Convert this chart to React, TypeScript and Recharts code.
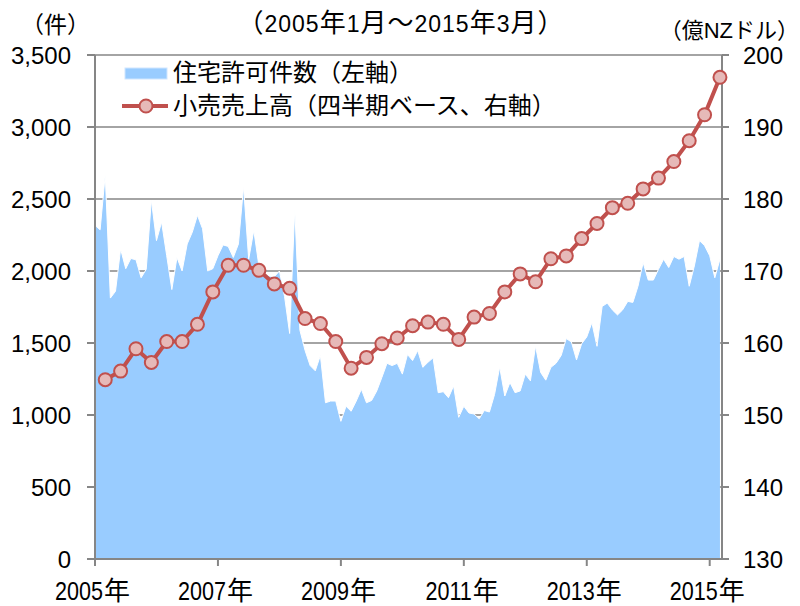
import React from 'react';
import { ComposedChart, Area, Line, XAxis, YAxis, CartesianGrid } from 'recharts';

// monthly building consents, Jan 2005 - Mar 2015 (left axis)
const permits = [
  2317, 2286, 2669, 1812, 1859, 2153, 2016, 2087, 2078, 1953,
  2012, 2493, 2211, 2340, 2106, 1871, 2094, 2000, 2188, 2270,
  2387, 2293, 2000, 2016, 2106, 2181, 2171, 2094, 2188, 2587,
  2082, 2282, 2035, 1988, 1965, 1960, 2000, 1824, 1566, 2434,
  1589, 1449, 1343, 1307, 1413, 1085, 1097, 1097, 956, 1061,
  1026, 1097, 1179, 1085, 1101, 1167, 1261, 1359, 1343, 1359,
  1284, 1420, 1378, 1448, 1331, 1366, 1397, 1155, 1162, 1120,
  1202, 984, 1061, 1014, 1007, 974, 1031, 1021, 1143, 1333,
  1132, 1226, 1155, 1167, 1284, 1237, 1479, 1296, 1242, 1331,
  1359, 1413, 1531, 1507, 1383, 1495, 1542, 1641, 1477, 1754,
  1777, 1730, 1695, 1730, 1789, 1782, 1894, 2059, 1937, 1937,
  2012, 2082, 2024, 2101, 2082, 2101, 1894, 2035, 2211, 2176,
  2106, 1953, 2082,
];

// quarterly retail sales, 2005Q1 - 2015Q1 (right axis, 億NZドル)
const retailSales = [
  154.9, 156.1, 159.2, 157.3, 160.2, 160.2, 162.6, 167.1, 170.8, 170.8,
  170.1, 168.2, 167.6, 163.4, 162.7, 160.2, 156.5, 158.0, 159.9, 160.7,
  162.4, 162.9, 162.6, 160.5, 163.6, 164.1, 167.1, 169.6, 168.5, 171.7,
  172.1, 174.5, 176.6, 178.8, 179.4, 181.4, 182.9, 185.2, 188.1, 191.7,
  196.9,
];

const startYear = 2005;
const yearTicks = [0, 24, 48, 72, 96, 120];
const leftTicks = [0, 500, 1000, 1500, 2000, 2500, 3000, 3500];
const rightTicks = [130, 140, 150, 160, 170, 180, 190, 200];

const chartData = permits.map((p, m) => ({
  m,
  permits: p,
  sales: m % 3 === 2 ? retailSales[(m - 2) / 3] : null,
}));

const FONT = "'Liberation Sans', Arial, 'Noto Sans CJK JP', sans-serif";
const CJK = "'Noto Sans CJK JP', sans-serif";
const AXIS = '#868686';
const RED = '#C0504D';
const PINK = '#E6B9B8';
const BLUE = '#99CCFF';

// x labels are drawn a bit condensed, like the original
const YearTick = ({ x, y, payload }: any) => {
  const year = startYear + payload.value / 12;
  return (
    <g>
      <text
        transform={`translate(${x + 8}, ${y + 34}) scale(0.83, 1)`}
        textAnchor="end"
        fontSize={26}
        fontFamily={FONT}
        fill="#000"
      >
        {year}
      </text>
      <text x={x + 9} y={y + 34} fontSize={26} fontFamily={CJK} fill="#000">
        年
      </text>
    </g>
  );
};

export default function App() {
  return (
    <div style={{ position: 'absolute', left: 0, top: 0, width: 800, height: 606, background: '#fff', overflow: 'hidden' }}>
      <ComposedChart width={800} height={606} data={chartData} margin={{ top: 55, right: 0, bottom: 0, left: 0 }}>
        <CartesianGrid yAxisId="left" vertical={false} stroke={AXIS} strokeWidth={1.5} />
        <XAxis
          dataKey="m"
          type="number"
          domain={[0, 122.4]}
          ticks={yearTicks}
          height={47}
          axisLine={{ stroke: AXIS, strokeWidth: 2 }}
          tickLine={{ stroke: AXIS, strokeWidth: 2 }}
          tickSize={7}
          tickMargin={0}
          tick={<YearTick />}
          interval={0}
        />
        <YAxis
          yAxisId="left"
          domain={[0, 3500]}
          ticks={leftTicks}
          tickFormatter={(v: number) => v.toLocaleString('en-US')}
          width={95}
          axisLine={{ stroke: AXIS, strokeWidth: 2 }}
          tickLine={{ stroke: AXIS, strokeWidth: 2 }}
          tickSize={8}
          tickMargin={16}
          tick={{ fill: '#000', fontSize: 24, fontFamily: FONT }}
          interval={0}
        />
        <YAxis
          yAxisId="right"
          orientation="right"
          domain={[130, 200]}
          ticks={rightTicks}
          width={78}
          axisLine={{ stroke: AXIS, strokeWidth: 2 }}
          tickLine={{ stroke: AXIS, strokeWidth: 2 }}
          tickSize={7}
          tickMargin={14}
          tick={{ fill: '#000', fontSize: 24, fontFamily: FONT }}
          interval={0}
        />
        <Area
          yAxisId="left"
          type="linear"
          dataKey="permits"
          fill={BLUE}
          fillOpacity={1}
          stroke="#fff"
          strokeWidth={1}
          isAnimationActive={false}
        />
        <Line
          yAxisId="right"
          type="linear"
          dataKey="sales"
          stroke={RED}
          strokeWidth={4}
          connectNulls
          dot={{ r: 6.5, fill: PINK, stroke: RED, strokeWidth: 2 }}
          activeDot={false}
          isAnimationActive={false}
        />
      </ComposedChart>

      {/* title, unit labels, legend */}
      <svg style={{ position: 'absolute', left: 0, top: 0 }} width={800} height={606}>
        <text x={401} y={32} textAnchor="middle" fill="#000" fontFamily={FONT} letterSpacing={1}>
          <tspan fontSize={26} fontFamily={CJK}>（</tspan>
          <tspan fontSize={23}>2005</tspan>
          <tspan fontSize={26} fontFamily={CJK}>年</tspan>
          <tspan fontSize={23}>1</tspan>
          <tspan fontSize={26} fontFamily={CJK}>月～</tspan>
          <tspan fontSize={23}>2015</tspan>
          <tspan fontSize={26} fontFamily={CJK}>年</tspan>
          <tspan fontSize={23}>3</tspan>
          <tspan fontSize={26} fontFamily={CJK}>月）</tspan>
        </text>
        <text x={21} y={33} fontSize={23} fontFamily={FONT} fill="#000">（件）</text>
        <text x={799} y={38} textAnchor="end" fontSize={22} fontFamily={FONT} fill="#000">（億NZドル）</text>

        <rect x={125} y={68} width={42} height={11} fill={BLUE} stroke="#cfe6ff" strokeWidth={1} />
        <text x={173} y={81} fontSize={24} fontFamily={FONT} fill="#000">住宅許可件数（左軸）</text>
        <line x1={122} y1={106} x2={168} y2={106} stroke={RED} strokeWidth={4} />
        <circle cx={146} cy={106} r={6.5} fill={PINK} stroke={RED} strokeWidth={2} />
        <text x={173} y={114} fontSize={24} fontFamily={FONT} fill="#000">小売売上高（四半期ベース、右軸）</text>
      </svg>
    </div>
  );
}
